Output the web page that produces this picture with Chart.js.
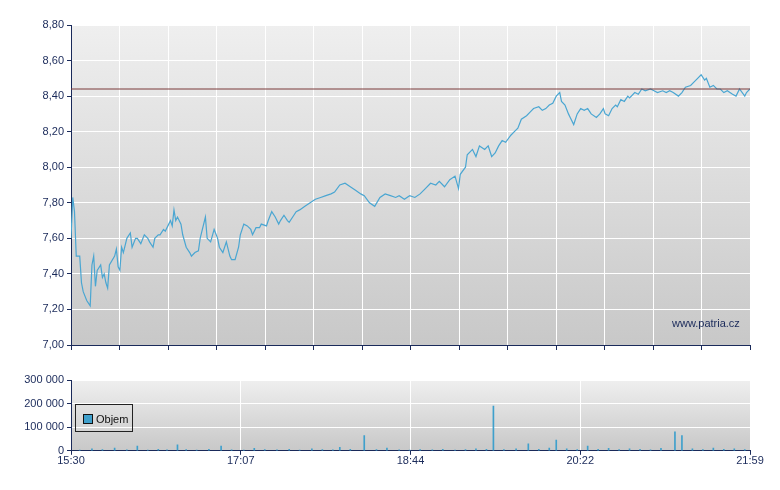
<!DOCTYPE html><html><head><meta charset="utf-8">
<script src="https://cdn.jsdelivr.net/npm/chart.js@4/dist/chart.umd.min.js"></script>
<style>body{margin:0;background:#fff;width:780px;height:490px;position:relative;font-family:"Liberation Sans",Arial,sans-serif}
#c1w{position:absolute;left:0;top:0;width:780px;height:360px}
#c2w{position:absolute;left:0;top:366px;width:780px;height:102px}
#leg{position:absolute;left:75px;top:404px;width:58px;height:28px;border:1px solid #222;font-size:11px;color:#111;box-sizing:border-box;padding:8px 0 0 7px}
#leg span{display:inline-block;width:8px;height:8px;background:#3fa0cc;border:1px solid #111;margin-right:3px;vertical-align:-1px}
#wm{position:absolute;left:672px;top:317px;font-size:11px;color:#1a2a5a}</style></head><body>
<div id="c1w"><canvas id="c1"></canvas></div><div id="c2w"><canvas id="c2"></canvas></div>
<div id="leg"><span></span>Objem</div><div id="wm">www.patria.cz</div>
<script>
const timeLabels=["15:30","17:07","18:44","20:22","21:59"];
const priceMinutes=[0,1,2,3,5,6,7,9,11,12,13,14,15,17,18,19,20,21,22,25,26,27,28,29,30,32,34,35,37,38,40,42,44,45,47,48,50,51,53,54,56,57,58,59,60,61,63,64,66,68,69,71,73,74,77,78,80,82,84,85,87,89,91,92,94,96,97,99,101,103,104,106,108,109,112,113,115,117,119,120,122,124,125,127,129,131,134,137,140,143,146,149,151,154,157,160,163,166,168,171,174,177,180,183,186,188,191,194,197,200,203,206,209,211,214,217,220,222,223,226,227,230,232,234,237,239,241,243,245,247,249,252,254,256,258,261,263,265,268,270,272,274,276,278,280,281,283,285,286,288,290,292,294,296,298,301,303,305,306,308,310,312,313,315,317,319,320,323,325,327,329,332,334,336,339,341,343,345,348,350,352,355,357,359,361,363,364,366,368,370,372,374,376,379,381,383,386,387,389];
const priceValues=[7.60,7.83,7.75,7.50,7.50,7.35,7.30,7.25,7.22,7.45,7.50,7.33,7.42,7.45,7.38,7.40,7.35,7.32,7.45,7.50,7.54,7.44,7.42,7.55,7.52,7.60,7.63,7.55,7.60,7.60,7.57,7.62,7.60,7.58,7.55,7.60,7.62,7.62,7.65,7.64,7.68,7.70,7.67,7.76,7.70,7.72,7.68,7.62,7.55,7.52,7.50,7.52,7.53,7.60,7.72,7.60,7.58,7.65,7.60,7.55,7.52,7.58,7.50,7.48,7.48,7.55,7.62,7.68,7.67,7.65,7.62,7.66,7.66,7.68,7.67,7.70,7.75,7.72,7.68,7.70,7.73,7.70,7.69,7.72,7.75,7.76,7.78,7.80,7.82,7.83,7.84,7.85,7.86,7.90,7.91,7.89,7.87,7.85,7.84,7.80,7.78,7.83,7.85,7.84,7.83,7.84,7.82,7.84,7.83,7.85,7.88,7.91,7.90,7.92,7.89,7.93,7.95,7.88,7.96,8.00,8.07,8.10,8.06,8.12,8.10,8.12,8.06,8.08,8.12,8.15,8.14,8.18,8.20,8.22,8.27,8.29,8.31,8.33,8.34,8.32,8.33,8.35,8.36,8.40,8.42,8.37,8.35,8.30,8.28,8.24,8.30,8.33,8.32,8.33,8.30,8.28,8.30,8.33,8.30,8.29,8.33,8.35,8.34,8.38,8.37,8.40,8.39,8.42,8.41,8.44,8.43,8.44,8.43,8.42,8.43,8.42,8.43,8.42,8.40,8.42,8.45,8.46,8.48,8.50,8.52,8.49,8.50,8.45,8.46,8.44,8.44,8.42,8.43,8.41,8.40,8.44,8.40,8.42,8.44];
const refPrice=8.44;
const volMinutes=[5,12,18,25,32,38,44,50,55,61,66,72,79,86,92,99,105,111,118,125,131,138,144,150,154,160,168,175,181,188,194,200,207,213,220,226,232,238,242,248,255,262,268,274,278,284,290,296,302,308,314,320,326,332,338,346,350,356,362,368,374,380,386];
const volValues=[3000,8000,5000,12000,4000,20000,3000,6000,4000,25000,5000,3000,6000,20000,4000,3000,10000,5000,4000,6000,3000,8000,5000,4000,15000,6000,65000,5000,12000,4000,3000,5000,4000,6000,3000,5000,8000,6000,190000,5000,8000,30000,6000,12000,45000,8000,5000,20000,6000,10000,5000,8000,6000,4000,10000,80000,65000,8000,5000,12000,6000,8000,5000];
const navy='#1a2a5a', font={family:'"Liberation Sans",Arial,sans-serif',size:11};
const bg={id:'bg',beforeDraw(c){const a=c.chartArea,x=c.ctx,g=x.createLinearGradient(0,a.top,0,a.bottom);g.addColorStop(0,'#efefef');g.addColorStop(1,'#c8c8c8');x.save();x.fillStyle=g;x.fillRect(a.left,a.top,a.right-a.left,a.bottom-a.top);x.restore();}};
const fmt=v=>v.toFixed(2).replace('.',',');
new Chart(document.getElementById('c1'),{type:'line',plugins:[bg],
data:{datasets:[
{data:[{x:0,y:refPrice},{x:389,y:refPrice}],borderColor:'#7a3a3a',borderWidth:1,pointRadius:0},
{data:priceMinutes.map((m,i)=>({x:m,y:priceValues[i]})),borderColor:'#4aa6d2',borderWidth:1.2,pointRadius:0,tension:0}]},
options:{animation:false,responsive:true,maintainAspectRatio:false,plugins:{legend:{display:false},tooltip:{enabled:false}},
layout:{padding:{top:25,right:30,left:0,bottom:0}},
scales:{x:{type:'linear',min:0,max:389,afterBuildTicks:s=>{s.ticks=[];for(let i=0;i<=14;i++)s.ticks.push({value:i*389/14});},
ticks:{display:false},grid:{color:'#fff',tickColor:navy,tickLength:5},border:{color:navy},afterFit:s=>{s.height=15;}},
y:{min:7,max:8.8,ticks:{stepSize:0.2,color:navy,font,callback:v=>fmt(v)},grid:{color:'#fff',tickColor:navy,tickLength:4},border:{color:navy},afterFit:s=>{s.width=71;}}}}});
new Chart(document.getElementById('c2'),{type:'bar',plugins:[bg],
data:{datasets:[{data:volMinutes.map((m,i)=>({x:m,y:volValues[i]})),backgroundColor:'#3fa0cc',barThickness:1}]},
options:{animation:false,responsive:true,maintainAspectRatio:false,plugins:{legend:{display:false},tooltip:{enabled:false}},
layout:{padding:{top:14,right:30,left:0,bottom:0}},
scales:{x:{type:'linear',min:0,max:389,offset:false,afterBuildTicks:s=>{s.ticks=[];for(let i=0;i<=4;i++)s.ticks.push({value:i*389/4});},
ticks:{color:navy,font,autoSkip:false,maxRotation:0,padding:0,callback:(v,i)=>timeLabels[i]},grid:{color:'#fff',tickColor:navy,tickLength:4,offset:false},border:{color:navy}},
y:{min:0,max:300000,ticks:{stepSize:100000,color:navy,font,callback:v=>v===0?'0':(v/1000)+' 000'},grid:{color:'#fff',tickColor:navy,tickLength:4},border:{color:navy},afterFit:s=>{s.width=71;}}}}});
</script></body></html>
